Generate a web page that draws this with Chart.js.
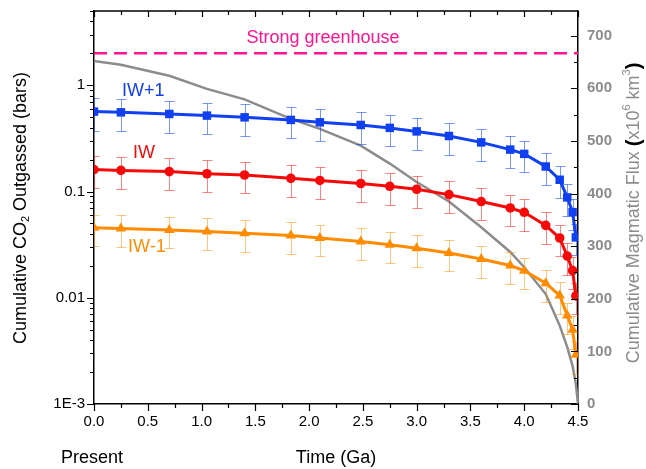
<!DOCTYPE html>
<html>
<head>
<meta charset="utf-8">
<script src="https://cdn.jsdelivr.net/npm/chart.js@4.4.0/dist/chart.umd.min.js"></script>
<style>
  html, body { margin: 0; background: #fff; }
</style>
</head>
<body>
<canvas id="chart" width="646" height="469"></canvas>
<script>
// data
const timeGa = [0, 0.25, 0.7, 1.05, 1.4, 1.83, 2.1, 2.48, 2.75, 3.0, 3.3, 3.6, 3.87, 4.0, 4.2, 4.33, 4.4, 4.45, 4.48];
const iwPlus1 = [0.565, 0.556, 0.537, 0.518, 0.499, 0.472, 0.448, 0.423, 0.397, 0.368, 0.333, 0.290, 0.248, 0.226, 0.172, 0.129, 0.088, 0.064, 0.037];
const iwPlus1Err = [0.19, 0.185, 0.18, 0.17, 0.165, 0.155, 0.15, 0.14, 0.13, 0.12, 0.11, 0.095, 0.082, 0.075, 0.057, 0.043, 0.029, 0.021, 0.012];
const iw = [0.161, 0.158, 0.154, 0.147, 0.143, 0.133, 0.127, 0.119, 0.112, 0.105, 0.0935, 0.0804, 0.070, 0.0637, 0.048, 0.0365, 0.0247, 0.018, 0.0104];
const iwErr = [0.053, 0.052, 0.051, 0.049, 0.047, 0.044, 0.042, 0.039, 0.037, 0.035, 0.031, 0.027, 0.023, 0.021, 0.016, 0.012, 0.0082, 0.006, 0.0034];
const iwMinus1 = [0.0455, 0.0448, 0.0435, 0.042, 0.0405, 0.0385, 0.0366, 0.0338, 0.0315, 0.0292, 0.0264, 0.0232, 0.0201, 0.018, 0.0137, 0.0105, 0.0068, 0.005, 0.0029];
const iwMinus1Err = [0.015, 0.0148, 0.0144, 0.0139, 0.0134, 0.0127, 0.0121, 0.0112, 0.0104, 0.0096, 0.0087, 0.0077, 0.0066, 0.0059, 0.0045, 0.0035, 0.0022, 0.0017, 0.001];

const fluxTimeGa = [0, 0.25, 0.7, 1.05, 1.4, 1.83, 2.1, 2.48, 2.75, 3.0, 3.3, 3.6, 3.87, 4.0, 4.2, 4.33, 4.4, 4.45, 4.48, 4.5];
const magmaticFlux = [652, 645, 624, 599, 579, 542, 523, 491, 457, 422, 385, 336, 289, 260, 209, 149, 108, 72, 38, 0];

const greenhouseBars = 2;
const greenhouseSpan = [0, 4.5];

const leftTicks = [0.001, 0.01, 0.1, 1];
const leftTickLabels = ['1E-3', '0.01', '0.1', '1'];
const rightTicks = [0, 100, 200, 300, 400, 500, 600, 700];

const FONT = '"Liberation Sans", Arial, sans-serif';
const BLUE = '#1040f0';
const RED = '#f50a0a';
const ORANGE = '#ff8c00';
const GRAY = '#8c8c8c';
const PINK = '#ff1493';

const toPoints = (xs, ys) => xs.map((x, i) => ({ x: x, y: ys[i] }));

// error bars drawn under each series
const errorBars = {
    id: 'errorBars',
    beforeDatasetDraw(chart, args) {
        const ds = chart.data.datasets[args.index];
        if (!ds.errors) return;
        const ctx = chart.ctx;
        const xs = chart.scales.x;
        const ys = chart.scales[ds.yAxisID];
        const a = chart.chartArea;
        ctx.save();
        ctx.beginPath();
        ctx.rect(a.left, a.top, a.right - a.left, a.bottom - a.top);
        ctx.clip();
        ctx.strokeStyle = ds.errorColor;
        ctx.lineWidth = 1;
        ds.data.forEach((p, i) => {
            const e = ds.errors[i];
            const px = Math.round(xs.getPixelForValue(p.x)) + 0.5;
            const top = Math.round(ys.getPixelForValue(p.y + e)) + 0.5;
            const bot = Math.round(ys.getPixelForValue(p.y - e)) + 0.5;
            ctx.beginPath();
            ctx.moveTo(px, top); ctx.lineTo(px, bot);
            ctx.moveTo(px - 5, top); ctx.lineTo(px + 5, top);
            ctx.moveTo(px - 5, bot); ctx.lineTo(px + 5, bot);
            ctx.stroke();
        });
        ctx.restore();
    }
};

// tick marks on all four sides, plus top border
const frameTicks = {
    id: 'frameTicks',
    afterDraw(chart) {
        const { ctx, chartArea: a, scales } = chart;
        ctx.save();
        ctx.strokeStyle = '#000';
        ctx.lineWidth = 1.5;
        ctx.beginPath();
        ctx.moveTo(a.left, a.top); ctx.lineTo(a.right, a.top);
        ctx.stroke();

        ctx.lineWidth = 1.2;
        ctx.beginPath();
        for (let i = 0; i <= 18; i++) {
            const px = Math.round(scales.x.getPixelForValue(i * 0.25)) + 0.5;
            const len = i % 2 === 0 ? 7 : 4;
            ctx.moveTo(px, a.bottom); ctx.lineTo(px, a.bottom + len);
            ctx.moveTo(px, a.top); ctx.lineTo(px, a.top + (i % 2 === 0 ? 6 : 4));
        }
        for (let d = -3; d <= 0; d++) {
            for (let m = 1; m <= 9; m++) {
                const v = m * Math.pow(10, d);
                if (v > scales.y.max) break;
                const py = Math.round(scales.y.getPixelForValue(v)) + 0.5;
                const len = m === 1 ? 7 : 4;
                ctx.moveTo(a.left, py); ctx.lineTo(a.left - len, py);
            }
        }
        for (let v = 0; v <= scales.y2.max; v += 50) {
            const py = Math.round(scales.y2.getPixelForValue(v)) + 0.5;
            const len = v % 100 === 0 ? 7 : 4;
            ctx.moveTo(a.right, py); ctx.lineTo(a.right - len, py);
        }
        ctx.stroke();
        ctx.restore();
    }
};

function drawParts(ctx, cx, cy, parts) {
    let total = 0;
    parts.forEach(p => { ctx.font = p.font; p.w = ctx.measureText(p.text).width; total += p.w; });
    let x = -total / 2;
    ctx.save();
    ctx.translate(cx, cy);
    ctx.rotate(-Math.PI / 2);
    ctx.textBaseline = 'middle';
    ctx.textAlign = 'left';
    parts.forEach(p => {
        ctx.font = p.font;
        ctx.fillStyle = p.color;
        ctx.fillText(p.text, x, p.dy || 0);
        x += p.w;
    });
    ctx.restore();
}

// axis titles and labels
const labels = {
    id: 'labels',
    afterDraw(chart) {
        const ctx = chart.ctx;
        const big = '18px ' + FONT;
        const small = '11px ' + FONT;
        drawParts(ctx, 21, 208, [
            { text: 'Cumulative CO', font: big, color: '#000' },
            { text: '2', font: small, color: '#000', dy: 5 },
            { text: ' Outgassed (bars)', font: big, color: '#000' }
        ]);
        drawParts(ctx, 634, 213, [
            { text: 'Cumulative Magmatic Flux ', font: big, color: GRAY },
            { text: '(', font: 'bold 20px ' + FONT, color: '#000' },
            { text: 'x10', font: big, color: GRAY },
            { text: '6', font: small, color: GRAY, dy: -7 },
            { text: ' km', font: big, color: GRAY },
            { text: '3', font: small, color: GRAY, dy: -7 },
            { text: ')', font: 'bold 20px ' + FONT, color: '#000' }
        ]);

        ctx.save();
        ctx.textBaseline = 'middle';
        ctx.font = big;
        ctx.textAlign = 'center';
        ctx.fillStyle = '#000';
        ctx.fillText('Present', 92, 458);
        ctx.fillStyle = PINK;
        ctx.fillText('Strong greenhouse', 323, 38);
        ctx.textAlign = 'left';
        ctx.fillStyle = BLUE;
        ctx.fillText('IW+1', 122, 91);
        ctx.fillStyle = RED;
        ctx.fillText('IW', 133, 153);
        ctx.fillStyle = ORANGE;
        ctx.fillText('IW-1', 128, 247);
        ctx.restore();
    }
};

const noEdgePadding = (s) => {
    s.paddingTop = 0;
    s.paddingBottom = 0;
    s.paddingLeft = 0;
    s.paddingRight = 0;
};

const ctx = document.getElementById('chart').getContext('2d');

new Chart(ctx, {
    type: 'line',
    data: {
        datasets: [
            {
                label: 'IW+1',
                data: toPoints(timeGa, iwPlus1),
                errors: iwPlus1Err,
                errorColor: 'rgba(16, 64, 240, 0.55)',
                yAxisID: 'y',
                borderColor: BLUE,
                backgroundColor: BLUE,
                borderWidth: 3,
                pointStyle: 'rect',
                pointRadius: 6,
                pointBorderWidth: 0
            },
            {
                label: 'IW',
                data: toPoints(timeGa, iw),
                errors: iwErr,
                errorColor: 'rgba(245, 10, 10, 0.5)',
                yAxisID: 'y',
                borderColor: RED,
                backgroundColor: RED,
                borderWidth: 3,
                pointStyle: 'circle',
                pointRadius: 4.8,
                pointBorderWidth: 0
            },
            {
                label: 'IW-1',
                data: toPoints(timeGa, iwMinus1),
                errors: iwMinus1Err,
                errorColor: 'rgba(255, 140, 0, 0.5)',
                yAxisID: 'y',
                borderColor: ORANGE,
                backgroundColor: ORANGE,
                borderWidth: 3,
                pointStyle: 'triangle',
                pointRadius: 6,
                pointBorderWidth: 0
            },
            {
                label: 'Strong greenhouse',
                data: greenhouseSpan.map(x => ({ x: x, y: greenhouseBars })),
                yAxisID: 'y',
                borderColor: PINK,
                borderWidth: 2.5,
                borderDash: [13, 7],
                pointRadius: 0
            },
            {
                label: 'Magmatic flux',
                data: toPoints(fluxTimeGa, magmaticFlux),
                yAxisID: 'y2',
                borderColor: GRAY,
                borderWidth: 2.5,
                pointRadius: 0
            }
        ]
    },
    options: {
        responsive: false,
        animation: false,
        devicePixelRatio: 1,
        layout: { padding: { top: 11, left: 0, right: 0, bottom: 0 } },
        plugins: {
            legend: { display: false },
            tooltip: { enabled: false }
        },
        scales: {
            x: {
                type: 'linear',
                min: 0,
                max: 4.5,
                afterFit: (s) => { noEdgePadding(s); s.height = 65; },
                grid: { drawOnChartArea: false, drawTicks: false },
                border: { color: '#000', width: 1.5 },
                ticks: {
                    stepSize: 0.5,
                    padding: 9,
                    color: '#000',
                    font: { family: FONT, size: 15 },
                    callback: (v) => v.toFixed(1)
                },
                title: {
                    display: true,
                    text: 'Time (Ga)',
                    color: '#000',
                    font: { family: FONT, size: 18 },
                    padding: { top: 0, bottom: 0 }
                }
            },
            y: {
                type: 'logarithmic',
                position: 'left',
                min: 0.001,
                max: 5,
                afterFit: (s) => { noEdgePadding(s); s.width = 94; },
                afterBuildTicks: (s) => { s.ticks = leftTicks.map(v => ({ value: v })); },
                grid: { drawOnChartArea: false, drawTicks: false },
                border: { color: '#000', width: 1.5 },
                ticks: {
                    padding: 9,
                    color: '#000',
                    font: { family: FONT, size: 15 },
                    callback: (v) => leftTickLabels[leftTicks.indexOf(v)]
                }
            },
            y2: {
                type: 'linear',
                position: 'right',
                min: 0,
                max: 747,
                afterFit: (s) => { noEdgePadding(s); s.width = 68; },
                afterBuildTicks: (s) => { s.ticks = rightTicks.map(v => ({ value: v })); },
                grid: { drawOnChartArea: false, drawTicks: false },
                border: { color: '#000', width: 1.5 },
                ticks: {
                    padding: 9,
                    color: GRAY,
                    font: { family: FONT, size: 15, weight: 'bold' }
                }
            }
        }
    },
    plugins: [errorBars, frameTicks, labels]
});
</script>
</body>
</html>
